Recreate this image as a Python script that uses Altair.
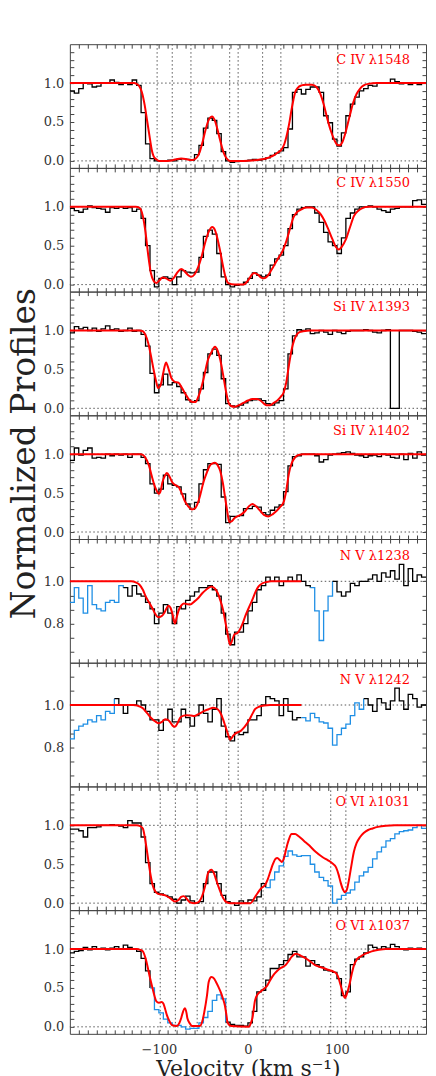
import altair as alt
import pandas as pd

FONT = "DejaVu Serif"
BLACK = "#000000"
BLUE = "#1f8fe5"
RED = "#ff0000"
BIN_START = -200
BIN_WIDTH = 5
NBINS = 80

# ---------------- observed flux, 5 km/s bins from -200 to +200 km/s ----------------
FLUX_C4_1548 = [
    0.90, 0.87, 0.93, 1.00, 0.99, 0.95, 0.96, 1.00, 1.00, 1.04,
    1.01, 0.98, 1.00, 0.98, 1.04, 0.97, 0.62, 0.22, 0.03, 0.00,
    0.00, 0.00, 0.01, 0.00, 0.02, 0.03, 0.02, 0.01, 0.08, 0.20,
    0.42, 0.55, 0.52, 0.35, 0.12, 0.00, -0.02, -0.01, 0.00, 0.00,
    0.01, 0.02, 0.01, 0.02, 0.04, 0.07, 0.10, 0.13, 0.17, 0.41,
    0.88, 0.92, 0.86, 0.92, 0.95, 0.95, 0.88, 0.58, 0.49, 0.28,
    0.19, 0.36, 0.58, 0.73, 0.82, 0.90, 0.93, 0.97, 0.96, 1.00,
    1.00, 1.00, 1.05, 1.02, 0.99, 1.00, 0.98, 1.00, 0.98, 1.00,
]
FLUX_C4_1550 = [
    0.98, 0.95, 0.93, 0.97, 1.01, 0.99, 0.98, 0.97, 0.93, 0.99,
    0.98, 1.00, 0.98, 0.99, 0.94, 0.97, 0.85, 0.50, 0.18, -0.03,
    0.08, 0.10, 0.08, 0.00, 0.10, 0.18, 0.16, 0.15, 0.16, 0.35,
    0.62, 0.70, 0.65, 0.40, 0.10, 0.00, -0.03, -0.01, 0.00, 0.03,
    0.08, 0.15, 0.12, 0.10, 0.12, 0.25, 0.33, 0.38, 0.50, 0.72,
    0.90, 0.97, 0.99, 1.00, 1.00, 0.92, 0.80, 0.67, 0.55, 0.50,
    0.40, 0.60, 0.85, 0.92, 0.97, 1.00, 1.00, 1.01, 1.00, 0.97,
    0.95, 0.93, 0.97, 0.98, 1.00, 1.00, 1.00, 1.08, 1.09, 1.03,
]
FLUX_SI4_1393 = [
    0.97, 1.05, 1.02, 1.04, 1.00, 1.03, 0.99, 1.02, 1.06, 1.01,
    1.02, 0.99, 1.00, 1.03, 0.99, 1.00, 0.95, 0.80, 0.45, 0.20,
    0.30, 0.44, 0.30, 0.33, 0.28, 0.20, 0.11, 0.08, 0.10, 0.25,
    0.46, 0.70, 0.76, 0.68, 0.38, 0.06, 0.03, 0.02, 0.04, 0.07,
    0.10, 0.11, 0.12, 0.10, 0.06, 0.04, 0.07, 0.10, 0.25, 0.70,
    0.93, 1.01, 1.00, 1.02, 0.96, 0.97, 1.00, 0.98, 0.95, 1.00,
    0.98, 0.96, 0.99, 1.00, 1.00, 1.00, 1.01, 1.00, 0.98, 0.97,
    1.00, 1.01, 0.00, 0.00, 1.00, 1.00, 1.00, 0.99, 0.98, 0.96,
]
FLUX_SI4_1402 = [
    0.92, 1.08, 0.99, 1.05, 1.08, 0.95, 0.96, 0.95, 1.00, 0.98,
    1.00, 0.99, 1.00, 0.96, 1.00, 1.00, 0.96, 0.88, 0.62, 0.50,
    0.55, 0.73, 0.62, 0.60, 0.58, 0.49, 0.36, 0.29, 0.38, 0.62,
    0.80, 0.88, 0.88, 0.87, 0.45, 0.12, 0.20, 0.20, 0.21, 0.30,
    0.30, 0.33, 0.32, 0.25, 0.22, 0.28, 0.32, 0.35, 0.52, 0.85,
    0.97, 0.98, 1.00, 1.00, 1.00, 0.98, 0.90, 0.93, 0.99, 1.00,
    1.01, 1.02, 1.03, 1.01, 0.99, 0.98, 0.96, 0.98, 0.99, 0.97,
    1.00, 0.99, 0.96, 0.95, 1.00, 0.93, 1.01, 0.95, 1.03, 0.99,
]
FLUX_N5_1238 = [
    0.90, 0.97, 0.92, 0.85, 0.98, 0.89, 0.87, 0.86, 0.90, 0.91,
    0.90, 0.98, 0.97, 0.93, 0.98, 0.94, 0.93, 0.90, 0.87, 0.80,
    0.85, 0.89, 0.85, 0.80, 0.88, 0.87, 0.91, 0.93, 0.95, 0.97,
    0.97, 0.98, 0.96, 0.93, 0.85, 0.75, 0.70, 0.76, 0.76, 0.80,
    0.86, 0.90, 0.96, 0.98, 1.02, 1.00, 1.02, 0.98, 1.00, 1.02,
    1.00, 1.03, 1.00, 0.98, 0.97, 0.86, 0.72, 0.86, 0.93, 1.00,
    0.95, 0.93, 0.95, 0.99, 0.98, 1.00, 1.00, 1.01, 1.03, 1.00,
    1.04, 1.02, 1.05, 1.01, 1.08, 0.98, 1.06, 1.00, 1.03, 1.02,
]
FLUX_N5_1242 = [
    0.84, 0.88, 0.90, 0.91, 0.93, 0.92, 0.95, 0.93, 0.97, 0.96,
    1.03, 1.00, 0.96, 1.00, 1.00, 1.02, 1.00, 0.97, 0.93, 0.93,
    0.88, 0.93, 0.98, 0.92, 0.92, 0.98, 0.94, 0.90, 0.95, 1.00,
    0.96, 0.92, 0.98, 1.03, 0.90, 0.85, 0.83, 0.87, 0.86, 0.87,
    0.93, 0.93, 0.95, 1.00, 1.04, 1.03, 1.02, 0.95, 1.03, 0.97,
    0.93, 0.94, 0.94, 0.925, 0.96, 0.94, 0.92, 0.915, 0.89, 0.81,
    0.86, 0.89, 0.91, 0.95, 1.01, 0.98, 1.03, 1.00, 0.97, 1.03,
    1.01, 0.98, 1.02, 1.08, 1.02, 0.98, 1.05, 1.03, 0.99, 1.00,
]
FLUX_O6_1031 = [
    0.95, 0.95, 0.93, 0.85, 0.97, 0.97, 0.98, 1.00, 1.00, 1.01,
    1.00, 0.99, 0.97, 1.06, 1.03, 1.03, 0.85, 0.52, 0.25, 0.14,
    0.12, 0.10, 0.08, 0.05, 0.00, 0.04, 0.09, 0.03, 0.00, 0.02,
    0.25, 0.40, 0.40, 0.25, 0.10, 0.02, 0.00, -0.03, 0.03, 0.00,
    0.04, 0.03, 0.08, 0.25, 0.20, 0.30, 0.40, 0.48, 0.60, 0.67,
    0.62, 0.60, 0.61, 0.61, 0.50, 0.40, 0.33, 0.29, 0.22, 0.00,
    0.05, 0.10, 0.13, 0.17, 0.27, 0.35, 0.40, 0.46, 0.57, 0.66,
    0.72, 0.80, 0.83, 0.89, 0.92, 0.93, 0.94, 0.97, 1.00, 0.96,
]
FLUX_O6_1037 = [
    0.95, 0.97, 0.98, 1.02, 0.99, 1.03, 1.00, 1.01, 0.99, 1.01,
    1.03, 1.00, 1.05, 1.02, 1.00, 0.97, 0.88, 0.72, 0.50, 0.22,
    0.18, 0.10, 0.05, 0.02, 0.02, 0.00, -0.03, -0.02, -0.02, 0.05,
    0.12, 0.20, 0.34, 0.41, 0.36, 0.06, 0.03, 0.02, 0.02, 0.01,
    0.05, 0.20, 0.45, 0.47, 0.60, 0.75, 0.75, 0.80, 0.85, 0.93,
    0.97, 0.90, 0.90, 0.78, 0.85, 0.80, 0.77, 0.73, 0.72, 0.70,
    0.62, 0.40, 0.45, 0.80, 0.87, 0.90, 0.95, 1.05, 1.02, 1.00,
    1.03, 1.01, 1.06, 1.03, 1.00, 0.99, 1.01, 1.00, 1.01, 1.00,
]

# ---------------- fitted model profiles (velocity, normalized flux) ----------------
MODEL_C4_1548 = [
    (-200, 1.0), (-128, 1.0), (-125, 0.99), (-122, 0.96), (-119, 0.88), (-116, 0.72),
    (-113, 0.50), (-110, 0.28), (-108, 0.14), (-106, 0.06), (-103, 0.02), (-100, 0.0),
    (-90, 0.0), (-84, 0.01), (-79, 0.025), (-75, 0.03), (-70, 0.025), (-64, 0.01),
    (-60, 0.02), (-57, 0.05), (-54, 0.12), (-51, 0.24), (-48, 0.38), (-45, 0.50),
    (-42, 0.56), (-40, 0.57), (-38, 0.54), (-35, 0.44), (-32, 0.30), (-29, 0.17),
    (-26, 0.07), (-23, 0.02), (-20, 0.0), (-5, 0.0), (5, 0.005), (12, 0.015),
    (18, 0.025), (24, 0.045), (29, 0.07), (34, 0.11), (38, 0.15), (41, 0.22),
    (43, 0.30), (45, 0.40), (47, 0.52), (49, 0.66), (51, 0.78), (53, 0.88),
    (56, 0.94), (60, 0.97), (65, 0.98), (72, 0.98), (77, 0.95), (81, 0.87),
    (85, 0.73), (89, 0.55), (93, 0.39), (97, 0.27), (100, 0.21), (103, 0.20),
    (106, 0.24), (109, 0.34), (112, 0.47), (115, 0.61), (118, 0.74), (122, 0.86),
    (126, 0.93), (130, 0.97), (135, 0.99), (145, 1.0), (200, 1.0),
]
MODEL_C4_1550 = [
    (-200, 1.0), (-126, 1.0), (-122, 0.99), (-118, 0.88), (-115, 0.67), (-112, 0.38),
    (-109, 0.15), (-106, 0.05), (-103, 0.02), (-99, 0.06), (-96, 0.09), (-92, 0.08),
    (-87, 0.05), (-83, 0.09), (-79, 0.16), (-75, 0.20), (-71, 0.17), (-67, 0.12),
    (-64, 0.10), (-60, 0.13), (-56, 0.22), (-52, 0.36), (-48, 0.54), (-44, 0.68),
    (-40, 0.74), (-37, 0.70), (-34, 0.58), (-31, 0.42), (-28, 0.24), (-25, 0.09),
    (-22, 0.02), (-15, 0.0), (-5, 0.0), (0, 0.05), (4, 0.12), (7, 0.15),
    (11, 0.13), (15, 0.09), (18, 0.08), (22, 0.11), (26, 0.18), (30, 0.26),
    (34, 0.34), (38, 0.41), (42, 0.52), (45, 0.63), (48, 0.75), (51, 0.86),
    (55, 0.93), (59, 0.96), (65, 0.99), (72, 0.99), (77, 0.96), (82, 0.90),
    (86, 0.82), (90, 0.72), (95, 0.58), (99, 0.48), (102, 0.45), (105, 0.48),
    (110, 0.58), (115, 0.75), (119, 0.88), (124, 0.95), (128, 0.98), (135, 1.0),
    (200, 1.0),
]
MODEL_SI4_1393 = [
    (-200, 1.0), (-122, 1.0), (-118, 0.99), (-115, 0.94), (-112, 0.84), (-109, 0.68),
    (-106, 0.50), (-103, 0.34), (-101, 0.26), (-98, 0.30), (-95, 0.46), (-92, 0.59),
    (-89, 0.50), (-86, 0.39), (-82, 0.34), (-78, 0.33), (-74, 0.26), (-70, 0.18),
    (-66, 0.11), (-62, 0.08), (-59, 0.08), (-56, 0.14), (-52, 0.28), (-49, 0.42),
    (-45, 0.62), (-41, 0.72), (-37, 0.79), (-34, 0.74), (-31, 0.62), (-28, 0.44),
    (-25, 0.24), (-22, 0.08), (-19, 0.03), (-15, 0.02), (-10, 0.04), (-5, 0.07),
    (0, 0.10), (5, 0.12), (10, 0.12), (14, 0.10), (18, 0.06), (21, 0.04),
    (25, 0.04), (29, 0.07), (33, 0.10), (37, 0.15), (40, 0.20), (43, 0.33),
    (46, 0.55), (49, 0.75), (52, 0.88), (55, 0.95), (58, 0.98), (62, 0.99),
    (70, 1.0), (200, 1.0),
]
MODEL_SI4_1402 = [
    (-200, 1.0), (-120, 1.0), (-116, 0.97), (-111, 0.85), (-108, 0.72), (-105, 0.60),
    (-102, 0.52), (-100, 0.49), (-98, 0.53), (-96, 0.64), (-93, 0.73), (-91, 0.76),
    (-88, 0.71), (-85, 0.64), (-81, 0.60), (-78, 0.58), (-74, 0.49), (-71, 0.40),
    (-67, 0.33), (-63, 0.29), (-59, 0.31), (-56, 0.38), (-53, 0.50), (-50, 0.64),
    (-46, 0.77), (-43, 0.85), (-40, 0.88), (-37, 0.89), (-34, 0.86), (-31, 0.78),
    (-28, 0.62), (-26, 0.47), (-23, 0.25), (-21, 0.13), (-18, 0.14), (-15, 0.18),
    (-12, 0.20), (-7, 0.23), (-3, 0.27), (1, 0.33), (5, 0.36), (9, 0.33),
    (14, 0.27), (18, 0.22), (23, 0.20), (28, 0.23), (32, 0.27), (36, 0.32),
    (40, 0.38), (43, 0.53), (46, 0.75), (49, 0.88), (53, 0.96), (57, 0.99),
    (62, 1.0), (200, 1.0),
]
MODEL_N5_1238 = [
    (-200, 1.0), (-131, 1.0), (-126, 0.995), (-122, 0.985), (-118, 0.96), (-115, 0.93),
    (-111, 0.90), (-107, 0.87), (-104, 0.845), (-101, 0.83), (-97, 0.835), (-94, 0.85),
    (-91, 0.875), (-89, 0.885), (-87, 0.875), (-85, 0.85), (-82, 0.80), (-80, 0.83),
    (-78, 0.86), (-75, 0.885), (-72, 0.895), (-68, 0.892), (-65, 0.89), (-60, 0.905),
    (-56, 0.92), (-51, 0.945), (-47, 0.96), (-41, 0.976), (-37, 0.965), (-34, 0.945),
    (-31, 0.91), (-28, 0.866), (-25, 0.80), (-23, 0.756), (-20, 0.70), (-17, 0.73),
    (-15, 0.75), (-12, 0.755), (-10, 0.765), (-6, 0.80), (-3, 0.835), (1, 0.875),
    (5, 0.913), (9, 0.955), (12, 0.976), (16, 0.99), (21, 0.997), (26, 1.0), (60, 1.0),
]
MODEL_N5_1242 = [
    (-200, 1.0), (-129, 1.0), (-124, 0.997), (-118, 0.985), (-113, 0.96), (-109, 0.94),
    (-104, 0.922), (-100, 0.914), (-96, 0.922), (-93, 0.933), (-90, 0.93), (-87, 0.917),
    (-84, 0.90), (-82, 0.897), (-79, 0.915), (-76, 0.94), (-72, 0.95), (-69, 0.952),
    (-64, 0.95), (-60, 0.948), (-55, 0.958), (-49, 0.972), (-44, 0.98), (-39, 0.987),
    (-34, 0.98), (-30, 0.955), (-28, 0.933), (-25, 0.895), (-23, 0.87), (-20, 0.836),
    (-17, 0.852), (-15, 0.862), (-11, 0.872), (-8, 0.878), (-4, 0.895), (1, 0.925),
    (5, 0.958), (8, 0.98), (13, 0.993), (18, 0.998), (25, 1.0), (60, 1.0),
]
MODEL_O6_1031 = [
    (-200, 1.0), (-125, 1.0), (-121, 0.99), (-118, 0.96), (-115, 0.79), (-113, 0.64),
    (-111, 0.48), (-109, 0.34), (-107, 0.23), (-104, 0.15), (-101, 0.12), (-97, 0.11),
    (-93, 0.10), (-87, 0.06), (-82, 0.02), (-78, 0.04), (-75, 0.08), (-72, 0.09),
    (-69, 0.06), (-65, 0.01), (-60, 0.0), (-56, 0.01), (-53, 0.05), (-50, 0.14),
    (-47, 0.27), (-45, 0.38), (-41, 0.43), (-38, 0.38), (-36, 0.31), (-33, 0.21),
    (-30, 0.12), (-27, 0.05), (-25, 0.02), (-20, 0.0), (3, 0.0), (6, 0.04),
    (8, 0.08), (11, 0.13), (14, 0.18), (17, 0.21), (19, 0.23), (22, 0.30),
    (25, 0.40), (28, 0.50), (31, 0.57), (33, 0.58), (36, 0.55), (38, 0.53),
    (41, 0.60), (43, 0.70), (46, 0.82), (49, 0.89), (53, 0.89), (57, 0.86),
    (63, 0.80), (69, 0.74), (76, 0.66), (84, 0.59), (90, 0.55), (95, 0.51),
    (99, 0.46), (102, 0.36), (104, 0.27), (107, 0.17), (109, 0.14), (111, 0.17),
    (113, 0.27), (116, 0.47), (119, 0.66), (122, 0.77), (126, 0.85), (130, 0.90),
    (135, 0.94), (140, 0.96), (146, 0.98), (155, 0.995), (165, 1.0), (200, 1.0),
]
MODEL_O6_1037 = [
    (-200, 1.0), (-125, 1.0), (-121, 0.99), (-118, 0.97), (-115, 0.88), (-113, 0.79),
    (-110, 0.63), (-107, 0.49), (-105, 0.40), (-103, 0.33), (-100, 0.31), (-97, 0.32),
    (-95, 0.30), (-93, 0.23), (-91, 0.15), (-88, 0.07), (-85, 0.02), (-80, 0.01),
    (-77, 0.05), (-75, 0.11), (-73, 0.19), (-71, 0.24), (-69, 0.18), (-68, 0.11),
    (-65, 0.04), (-63, 0.01), (-54, 0.01), (-51, 0.08), (-49, 0.19), (-46, 0.40),
    (-44, 0.58), (-41, 0.64), (-38, 0.62), (-36, 0.58), (-33, 0.51), (-30, 0.43),
    (-28, 0.36), (-26, 0.28), (-24, 0.14), (-23, 0.06), (-19, 0.01), (1, 0.0),
    (3, 0.04), (5, 0.11), (8, 0.34), (11, 0.42), (14, 0.45), (18, 0.49),
    (21, 0.52), (25, 0.60), (29, 0.67), (33, 0.72), (36, 0.75), (42, 0.79),
    (46, 0.85), (49, 0.90), (54, 0.94), (60, 0.91), (65, 0.88), (70, 0.84),
    (76, 0.79), (84, 0.76), (91, 0.73), (96, 0.71), (99, 0.69), (102, 0.62),
    (104, 0.54), (107, 0.42), (109, 0.37), (111, 0.42), (114, 0.54), (117, 0.70),
    (119, 0.79), (122, 0.86), (126, 0.90), (132, 0.94), (139, 0.97), (147, 0.99),
    (155, 1.0), (200, 1.0),
]

# ---------------- component velocities (dotted markers) ----------------
VLINES_C4 = [-102, -85, -64, -20.5, -11, 16.5, 37, 101]
VLINES_SI4 = [-100, -85, -63, -20.5, -11, 23, 40.5]
VLINES_N5 = [-101, -83, -65.5, -21.5, -11]
VLINES_O6 = [-98.5, -81.5, -57, -24.5, -7.5, 17, 40.5, 93, 110]

LABELS = ["C IV λ1548", "C IV λ1550", "Si IV λ1393", "Si IV λ1402",
          "N V λ1238", "N V λ1242", "O VI λ1031", "O VI λ1037"]
Y_TITLE = "Normalized Profiles"
X_TITLE = "Velocity (km s\u207b\u00b9)"

FULL_DOM = [-0.09, 1.5]
FULL_TICKS = [0.0, 0.1, 0.2, 0.3, 0.4, 0.5, 0.6, 0.7, 0.8, 0.9, 1.0, 1.1, 1.2, 1.3, 1.4]
FULL_LABELLED = [0.0, 0.5, 1.0]
NV_DOM = [0.615, 1.2]
NV_TICKS = [0.6667, 0.7333, 0.8, 0.8667, 0.9333, 1.0, 1.0667, 1.1333]
NV_LABELLED = [0.8, 1.0]

PANELS = [
    dict(flux=FLUX_C4_1548, model=MODEL_C4_1548, blue=[], vl=VLINES_C4, nv=False),
    dict(flux=FLUX_C4_1550, model=MODEL_C4_1550, blue=[], vl=VLINES_C4, nv=False),
    dict(flux=FLUX_SI4_1393, model=MODEL_SI4_1393, blue=[], vl=VLINES_SI4, nv=False),
    dict(flux=FLUX_SI4_1402, model=MODEL_SI4_1402, blue=[], vl=VLINES_SI4, nv=False),
    dict(flux=FLUX_N5_1238, model=MODEL_N5_1238, blue=[(-200, -140), (70, 95)], vl=VLINES_N5, nv=True),
    dict(flux=FLUX_N5_1242, model=MODEL_N5_1242, blue=[(-200, -150), (60, 130)], vl=VLINES_N5, nv=True),
    dict(flux=FLUX_O6_1031, model=MODEL_O6_1031, blue=[(20, 200)], vl=VLINES_O6, nv=False),
    dict(flux=FLUX_O6_1037, model=MODEL_O6_1037, blue=[(-110, -25)], vl=VLINES_O6, nv=False),
]
TITLE_PANEL = 3  # panel whose left axis carries the shared y title

W, H = 357, 124
X_TICKS = list(range(-190, 200, 10))


def step_frame(flux, blue_ranges):
    colors = []
    for i in range(NBINS):
        c = BIN_START + BIN_WIDTH * (i + 0.5)
        colors.append(BLUE if any(a <= c <= b for a, b in blue_ranges) else BLACK)
    rows, seg, i = [], 0, 0
    while i < NBINS:
        j = i
        while j + 1 < NBINS and colors[j + 1] == colors[i]:
            j += 1
        for k in range(i, j + 1):
            rows.append({"v": BIN_START + BIN_WIDTH * k, "f": flux[k], "seg": seg, "c": colors[i]})
        nxt = flux[j + 1] if j + 1 < NBINS else flux[j]
        rows.append({"v": BIN_START + BIN_WIDTH * (j + 1), "f": nxt, "seg": seg, "c": colors[i]})
        seg += 1
        i = j + 1
    return pd.DataFrame(rows)


def y_axis(orient, ticks, labelled, show, title=None):
    test = " || ".join(f"abs(datum.value - {v}) < 1e-6" for v in labelled)
    kw = dict(orient=orient, values=ticks, offset=-4, tickSize=4, domain=False,
              grid=False, labels=show, labelExpr=f"({test}) ? format(datum.value, '.1f') : ''",
              labelOverlap=False, labelFlush=False, labelPadding=6, labelFont=FONT,
              labelFontSize=13, labelColor="#333", tickColor="#444")
    if title:
        kw.update(title=title, titleFont=FONT, titleFontSize=33, titleFontWeight="normal",
                  titleColor="#222", titleAngle=270, titleAlign="center",
                  titleBaseline="alphabetic", titleX=-39, titleY=38)
    else:
        kw.update(title=None)
    return alt.Axis(**kw)


def x_axis(orient, show, title=None):
    kw = dict(orient=orient, values=X_TICKS, offset=-4, tickSize=4, domain=False, grid=False,
              labels=show, labelOverlap=False, labelFlush=False, labelPadding=10,
              labelExpr="datum.value == 0 ? '0' : (abs(datum.value) == 100 ? (datum.value < 0 ? '\u2212100' : '100') : '')",
              labelFont=FONT, labelFontSize=13, labelColor="#333", tickColor="#444")
    if title:
        kw.update(title=title, titleFont=FONT, titleFontSize=22, titleFontWeight="normal",
                  titleColor="#222", titlePadding=2)
    else:
        kw.update(title=None)
    return alt.Axis(**kw)


charts = []
for idx, p in enumerate(PANELS):
    bottom = idx == len(PANELS) - 1
    xs = alt.Scale(domain=[-200, 200], nice=False, zero=False)
    ydom = NV_DOM if p["nv"] else FULL_DOM
    ticks = NV_TICKS if p["nv"] else FULL_TICKS
    labelled = NV_LABELLED if p["nv"] else FULL_LABELLED
    hl = [1.0] if p["nv"] else [0.0, 1.0]
    ys = alt.Scale(domain=ydom, nice=False, zero=False)

    hr = alt.Chart(pd.DataFrame({"y": hl})).mark_rule(
        color="#555", strokeDash=[1.5, 2.5], strokeWidth=1
    ).encode(y=alt.Y("y:Q", scale=ys, axis=y_axis("right", ticks, labelled, False)))

    vr = alt.Chart(pd.DataFrame({"v": p["vl"]})).mark_rule(
        color="#555", strokeDash=[1.5, 2.5], strokeWidth=1
    ).encode(x=alt.X("v:Q", scale=xs, axis=x_axis("top", False)))

    data = alt.Chart(step_frame(p["flux"], p["blue"])).mark_line(
        interpolate="step-after", strokeWidth=1.3, clip=True
    ).encode(
        x=alt.X("v:Q", scale=xs, axis=x_axis("bottom", bottom, X_TITLE if bottom else None)),
        y=alt.Y("f:Q", scale=ys,
                axis=y_axis("left", ticks, labelled, True, Y_TITLE if idx == TITLE_PANEL else None)),
        detail="seg:N",
        color=alt.Color("c:N", scale=None),
    )

    mv = [a for a, b in p["model"]]
    mf = [b for a, b in p["model"]]
    model = alt.Chart(pd.DataFrame({"v": mv, "f": mf})).mark_line(
        color=RED, strokeWidth=2, interpolate="monotone", clip=True
    ).encode(x=alt.X("v:Q", scale=xs, axis=None), y=alt.Y("f:Q", scale=ys, axis=None))

    label_y = 1.12 if p["nv"] else 1.30
    txt = alt.Chart(pd.DataFrame({"v": [182], "f": [label_y], "t": [LABELS[idx]]})).mark_text(
        align="right", baseline="middle", color=RED, font=FONT, fontSize=13
    ).encode(x=alt.X("v:Q", scale=xs, axis=None), y=alt.Y("f:Q", scale=ys, axis=None), text="t:N")

    panel = alt.layer(hr, vr, data, model, txt).resolve_axis(
        x="independent", y="independent"
    ).properties(width=W, height=H)
    charts.append(panel)

chart = alt.vconcat(*charts, spacing=0, bounds="flush").properties(
    padding={"top": 34, "left": 0, "right": 1, "bottom": 0},
).configure_view(stroke="#444", strokeWidth=1).configure_axis(grid=False)

chart.save("out.html", embed_options={"renderer": "svg", "actions": False})
